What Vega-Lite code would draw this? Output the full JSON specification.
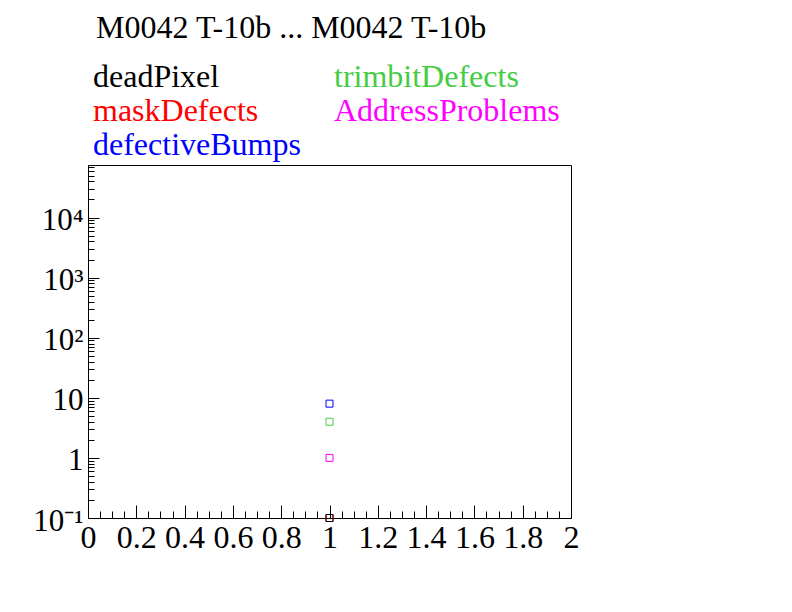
{
  "$schema": "https://vega.github.io/schema/vega-lite/v6.json",
  "width": 483,
  "height": 353,
  "autosize": "none",
  "padding": {"left": 88, "top": 165, "right": 221, "bottom": 94},
  "background": "white",
  "config": {
    "view": {"stroke": "black", "strokeWidth": 1},
    "font": "Liberation Serif",
    "axis": {"grid": false, "domainColor": "black", "tickColor": "black", "labelColor": "black", "labelFont": "Liberation Serif", "title": null}
  },
  "data": {
    "values": [
      {"x": 1, "value": 0.1, "series": "maskDefects"},
      {"x": 1, "value": 0.1, "series": "deadPixel"},
      {"x": 1, "value": 1, "series": "AddressProblems"},
      {"x": 1, "value": 4, "series": "trimbitDefects"},
      {"x": 1, "value": 8, "series": "defectiveBumps"}
    ]
  },
  "layer": [
    {
      "mark": {"type": "point", "shape": "square", "filled": false, "size": 49, "strokeWidth": 1, "opacity": 1},
      "encoding": {
        "x": {
          "field": "x", "type": "quantitative",
          "scale": {"domain": [0, 2], "nice": false, "zero": false},
          "axis": {"orient": "bottom", "values": [0, 0.2, 0.4, 0.6, 0.8, 1, 1.2, 1.4, 1.6, 1.8, 2], "format": "~g", "tickSize": -13, "labelFontSize": 32, "labelPadding": 17, "labelFlush": false, "labelOverlap": false}
        },
        "y": {
          "field": "value", "type": "quantitative",
          "scale": {"type": "log", "domain": [0.1, 75000], "nice": false},
          "axis": {"orient": "left", "values": [0.1, 1, 10, 100, 1000, 10000], "tickSize": -11, "labelFontSize": 31, "labelPadding": 16, "labelOffset": 3, "labelFlush": false, "labelOverlap": false,
            "labelExpr": "datum.value < 0.5 ? '10⁻¹' : datum.value < 5 ? '1' : datum.value < 50 ? '10' : datum.value < 500 ? '10²' : datum.value < 5000 ? '10³' : '10⁴'"}
        },
        "color": {
          "field": "series", "type": "nominal",
          "scale": {"domain": ["deadPixel", "maskDefects", "defectiveBumps", "trimbitDefects", "AddressProblems"], "range": ["#000000", "#ff0000", "#0000ff", "#44cc44", "#ff00ff"]},
          "legend": {
            "orient": "none", "legendX": 8, "legendY": -152, "columns": 2, "columnPadding": 33, "rowPadding": 2,
            "title": "M0042 T-10b ... M0042 T-10b", "titleFontSize": 32, "titleFontWeight": "normal", "titleColor": "black", "titleFont": "Liberation Serif", "titlePadding": 16, "titleLimit": 1000,
            "labelFontSize": 32, "labelFont": "Liberation Serif", "labelLimit": 1000, "labelOffset": -35,
            "labelColor": {"expr": "datum.label == 'maskDefects' ? '#ff0000' : datum.label == 'defectiveBumps' ? '#0000ff' : datum.label == 'trimbitDefects' ? '#44cc44' : datum.label == 'AddressProblems' ? '#ff00ff' : '#000000'"},
            "symbolSize": 0, "symbolOpacity": 0, "symbolStrokeWidth": 0
          }
        }
      }
    },
    {
      "mark": {"type": "point", "opacity": 0},
      "encoding": {
        "x": {
          "field": "x", "type": "quantitative",
          "axis": {"orient": "bottom", "values": [0.05, 0.1, 0.15, 0.25, 0.3, 0.35, 0.45, 0.5, 0.55, 0.65, 0.7, 0.75, 0.85, 0.9, 0.95, 1.05, 1.1, 1.15, 1.25, 1.3, 1.35, 1.45, 1.5, 1.55, 1.65, 1.7, 1.75, 1.85, 1.9, 1.95], "tickSize": -7, "labels": false, "domain": false}
        },
        "y": {
          "field": "value", "type": "quantitative",
          "axis": {"orient": "left", "values": [0.2, 0.3, 0.4, 0.5, 0.6, 0.7, 0.8, 0.9, 2, 3, 4, 5, 6, 7, 8, 9, 20, 30, 40, 50, 60, 70, 80, 90, 200, 300, 400, 500, 600, 700, 800, 900, 2000, 3000, 4000, 5000, 6000, 7000, 8000, 9000, 20000, 30000, 40000, 50000, 60000, 70000], "tickSize": -6, "labels": false, "domain": false}
        }
      }
    }
  ],
  "resolve": {"axis": {"x": "independent", "y": "independent"}}
}
